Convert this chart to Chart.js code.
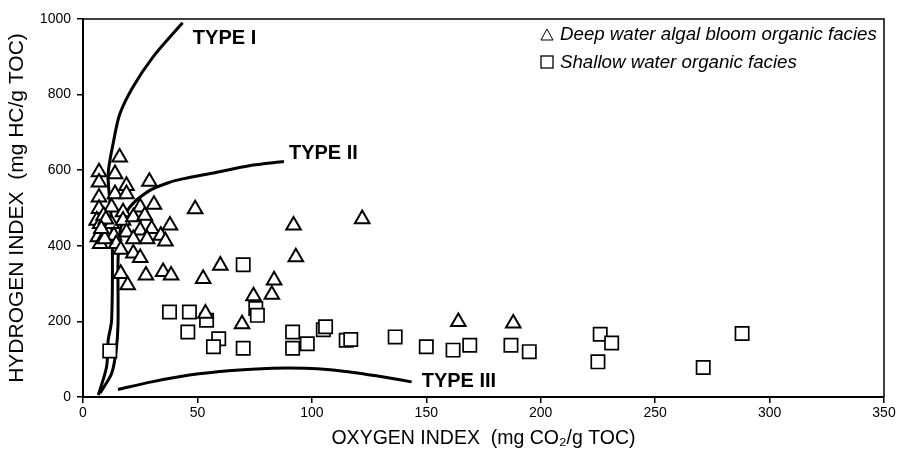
<!DOCTYPE html>
<html>
<head>
<meta charset="utf-8">
<script src="https://cdn.jsdelivr.net/npm/chart.js@4.4.0/dist/chart.umd.min.js"></script>
<style>
  html, body { margin: 0; padding: 0; background: #fff; }
</style>
</head>
<body>
<canvas id="vk" width="908" height="456"></canvas>
<script>
// tick values
const xTicks = [0, 50, 100, 150, 200, 250, 300, 350];
const yTicks = [0, 200, 400, 600, 800, 1000];

// deep water algal bloom organic facies (triangles)
const deepOI = [7, 14, 16, 7, 19, 29, 7, 14, 19, 7, 12.5, 17.5, 25, 31, 6, 7.5, 12.5, 17.5, 22, 27,
  6.5, 13.5, 19, 25, 30, 34, 7.5, 14.5, 22, 28, 9.5, 38, 36, 16.5, 22, 25, 16.5, 19.5, 27.5, 35,
  38.5, 9, 10, 8, 49, 92, 122, 60, 52.5, 93, 83.5, 82.5, 74.5, 53.5, 69.5, 164, 188];
const deepHI = [595, 590, 634, 568, 559, 570, 528, 537, 537, 498, 502, 489, 502, 509, 467, 458, 458, 467, 476, 480,
  423, 427, 436, 441, 445, 427, 405, 405, 418, 418, 418, 454, 412, 390, 380, 368, 326, 296, 322, 331,
  322, 480, 470, 445, 497, 454, 471, 348, 313, 370, 309, 271, 267, 221, 193, 199, 195];

// shallow water organic facies (squares)
const shallowOI = [11.7, 37.8, 46.5, 54, 45.8, 59.3, 57, 70, 75.5, 76.2, 91.6, 91.6, 98, 105, 106, 115, 117,
  136.4, 150, 161.7, 169, 187, 195, 226, 231, 225, 271, 288, 70];
const shallowHI = [122, 225, 225, 203, 172, 154, 133, 129, 234, 216, 172, 129, 141, 178, 186, 150, 152,
  159, 133, 124, 137, 137, 120, 166, 143, 93, 78, 168, 350];

// kerogen type curves
const type1OI = [6.7, 10.3, 11, 12.5, 12.8, 12, 11, 13.4, 16.1, 21.7, 30.4, 43.5];
const type1HI = [5, 80, 150, 203, 414, 500, 590, 678, 749, 819, 898, 990];
const type2OI = [7.4, 12.5, 14.5, 15.3, 15.3, 16, 16.5, 20.4, 29, 37.8, 43.5, 58.1, 72.6, 87.8];
const type2HI = [10, 62, 124, 194, 361, 414, 449, 502, 546, 568, 577, 594, 612, 623];
const type3OI = [15.3, 30, 46.5, 65, 82.7, 97.2, 108, 119, 132, 143.6];
const type3HI = [20, 40, 58, 70, 76, 76, 72, 64, 52, 40];

const typeLabels = [
  { text: 'TYPE I', oi: 48, hi: 948 },
  { text: 'TYPE II', oi: 90, hi: 645 },
  { text: 'TYPE III', oi: 148, hi: 40 }
];

const FONT = '"Liberation Sans", Arial, Helvetica, sans-serif';
Chart.defaults.font.family = FONT;
Chart.defaults.color = '#000';

const toPts = (xs, ys) => xs.map((v, i) => ({ x: v, y: ys[i] }));

function curve(xs, ys) {
  return {
    data: toPts(xs, ys),
    showLine: true,
    borderColor: '#000',
    borderWidth: 3,
    pointRadius: 0,
    tension: 0.3,
    fill: false,
    order: 2
  };
}

// frame, type labels and legend drawn on top
const extras = {
  id: 'extras',
  afterDatasetsDraw(chart) {
    const { ctx, chartArea: a, scales: { x, y } } = chart;
    ctx.save();
    ctx.strokeStyle = '#000';
    ctx.lineWidth = 1.5;
    ctx.beginPath();
    ctx.moveTo(a.left, a.top);
    ctx.lineTo(a.right, a.top);
    ctx.lineTo(a.right, a.bottom);
    ctx.stroke();

    ctx.fillStyle = '#000';
    ctx.textBaseline = 'middle';
    ctx.textAlign = 'left';
    ctx.font = 'bold 20px ' + FONT;
    typeLabels.forEach(l => {
      ctx.fillText(l.text, x.getPixelForValue(l.oi), y.getPixelForValue(l.hi));
    });

    // legend
    ctx.lineWidth = 1;
    const lx = 547;
    ctx.beginPath();
    ctx.moveTo(lx, 29);
    ctx.lineTo(lx + 6, 40);
    ctx.lineTo(lx - 6, 40);
    ctx.closePath();
    ctx.stroke();
    ctx.lineWidth = 1.3;
    ctx.strokeRect(lx - 6, 56, 12, 12);
    ctx.font = 'italic 18.7px ' + FONT;
    ctx.fillText('Deep water algal bloom organic facies', 560, 35);
    ctx.fillText('Shallow water organic facies', 560, 63);
    ctx.restore();
  }
};

new Chart(document.getElementById('vk'), {
  type: 'scatter',
  data: {
    datasets: [
      {
        label: 'Deep water algal bloom organic facies',
        data: toPts(deepOI, deepHI),
        pointStyle: 'triangle',
        pointRadius: 8.4,
        borderColor: '#000',
        borderWidth: 2,
        backgroundColor: '#fff',
        order: 1
      },
      {
        label: 'Shallow water organic facies',
        data: toPts(shallowOI, shallowHI),
        pointStyle: 'rect',
        pointRadius: 9.4,
        borderColor: '#000',
        borderWidth: 1.7,
        backgroundColor: '#fff',
        order: 1
      },
      curve(type1OI, type1HI),
      curve(type2OI, type2HI),
      curve(type3OI, type3HI)
    ]
  },
  options: {
    responsive: false,
    animation: false,
    devicePixelRatio: 1,
    layout: { padding: { top: 19, right: 24, left: 0, bottom: 0 } },
    plugins: { legend: { display: false }, tooltip: { enabled: false } },
    scales: {
      x: {
        type: 'linear',
        min: 0,
        max: 350,
        afterBuildTicks: s => { s.ticks = xTicks.map(v => ({ value: v })); },
        ticks: { color: '#000', font: { size: 14 }, padding: 2, maxRotation: 0, callback: v => String(v) },
        grid: { drawOnChartArea: false, tickLength: 6, color: '#000', lineWidth: 1.5 },
        border: { color: '#000', width: 2 },
        title: {
          display: true,
          text: 'OXYGEN INDEX  (mg CO\u2082/g TOC)',
          font: { size: 19.5 },
          color: '#000',
          padding: { top: 0, bottom: 6 }
        },
        afterFit: s => { s.height = 59; }
      },
      y: {
        min: 0,
        max: 1000,
        afterBuildTicks: s => { s.ticks = yTicks.map(v => ({ value: v })); },
        ticks: { color: '#000', font: { size: 14 }, padding: 6, callback: v => String(v) },
        grid: { drawOnChartArea: false, tickLength: 6, color: '#000', lineWidth: 1.5 },
        border: { color: '#000', width: 2 },
        title: {
          display: true,
          text: 'HYDROGEN INDEX  (mg HC/g TOC)',
          font: { size: 21 },
          color: '#000',
          padding: { top: 5, bottom: 0 }
        },
        afterFit: s => { s.width = 83; }
      }
    }
  },
  plugins: [extras]
});
</script>
</body>
</html>
